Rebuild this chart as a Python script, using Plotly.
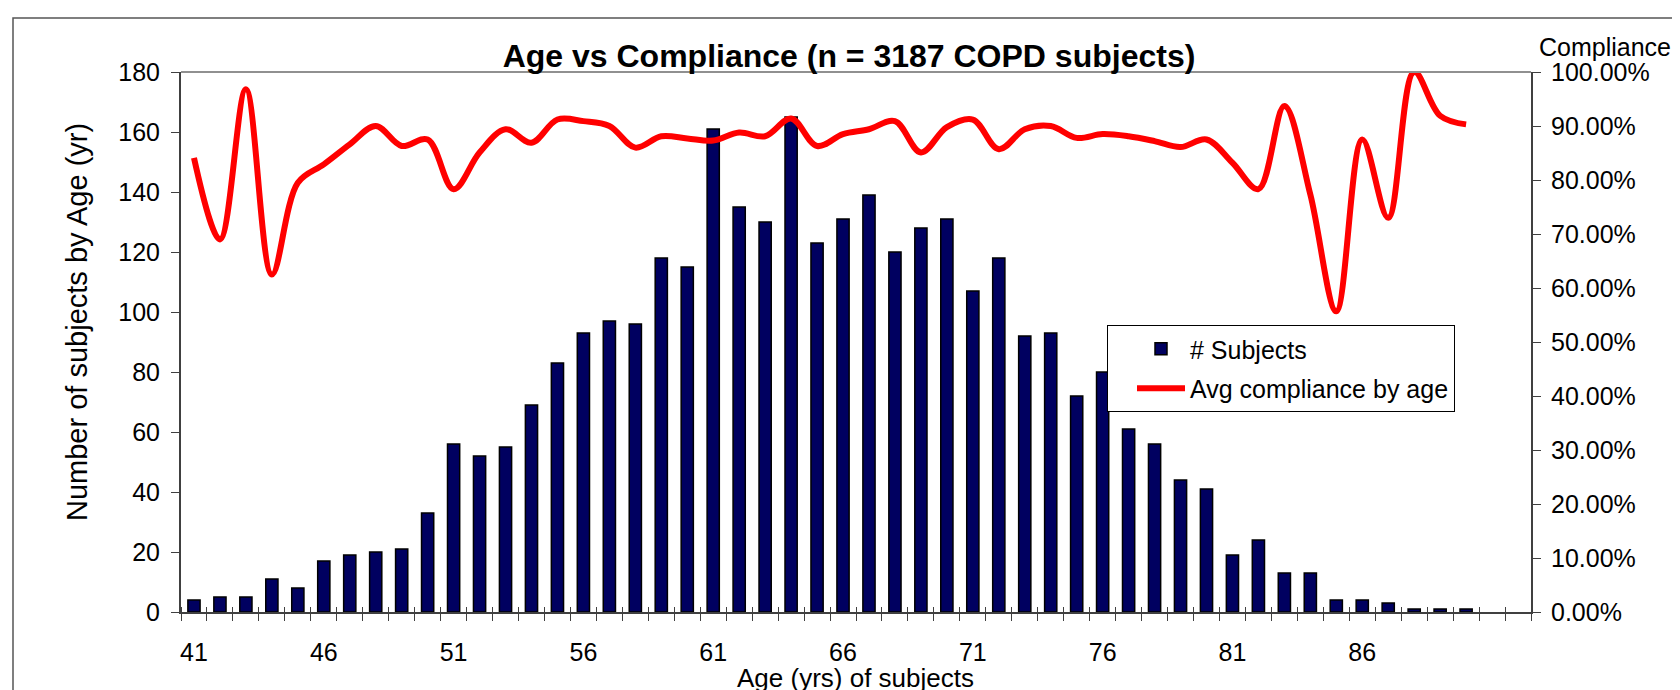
import plotly.graph_objects as go

# ---------------- data ----------------
ages = list(range(41, 91))
subjects = [4, 5, 5, 11, 8, 17, 19, 20, 21, 33,
            56, 52, 55, 69, 83, 93, 97, 96, 118, 115,
            161, 135, 130, 165, 123, 131, 139, 120, 128, 131,
            107, 118, 92, 93, 72, 80, 61, 56, 44, 41,
            19, 24, 13, 13, 4, 4, 3, 1, 1, 1]
compliance = [0.841, 0.690, 0.968, 0.625, 0.795, 0.829, 0.866, 0.900, 0.863, 0.875,
              0.783, 0.851, 0.894, 0.869, 0.912, 0.909, 0.900, 0.860, 0.881, 0.877,
              0.873, 0.888, 0.881, 0.914, 0.863, 0.885, 0.894, 0.909, 0.851, 0.898,
              0.912, 0.857, 0.894, 0.900, 0.878, 0.885, 0.881, 0.872, 0.861, 0.875,
              0.832, 0.783, 0.937, 0.773, 0.557, 0.875, 0.730, 1.000, 0.919, 0.903]
x_tick_labels = [41, 46, 51, 56, 61, 66, 71, 76, 81, 86]
n_categories = 52  # 41..92 (last two categories empty)
y_left_ticks = list(range(0, 181, 20))
y_right_ticks = [i / 10 for i in range(0, 11)]

# ---------------- layout geometry ----------------
OFF = 8                      # default page margin around the plot div
W, H = 1680 - OFF, 690 - OFF
L, R, T, B = 181 - OFF, 149, 72 - OFF, 78
pw, ph = W - L - R, H - T - B
FONT = "Liberation Sans, Arial, sans-serif"
AX = "#404040"

x_lo = ages[0] - 0.5
x_hi = ages[0] - 0.5 + n_categories
boundaries = [x_lo + i for i in range(n_categories + 1)]


def px_x(p):  # page pixel -> paper x
    return (p - OFF - L) / pw


def px_y(p):  # page pixel -> paper y
    return (H - B - (p - OFF)) / ph


fig = go.Figure()
fig.add_trace(go.Bar(
    x=ages, y=subjects, name="# Subjects",
    marker=dict(color="#000060", line=dict(color="black", width=1.5)),
    legendgroup="a",
))
fig.add_trace(go.Scatter(
    x=ages, y=compliance, name="Avg compliance by age",
    mode="lines", line=dict(color="#ff0000", width=6, shape="spline", smoothing=1.0),
    xaxis="x2", yaxis="y2", legendgroup="b",
))

fig.update_layout(
    width=W, height=H,
    margin=dict(l=L, r=R, t=T, b=B, autoexpand=False),
    paper_bgcolor="white", plot_bgcolor="white",
    font=dict(family=FONT, size=25, color="black"),
    bargap=0.53,
    showlegend=True,
    title=dict(text="<b>Age vs Compliance (n = 3187 COPD subjects)</b>",
               x=px_x(849), xref="paper", xanchor="center",
               y=1 - (56 - OFF) / H, yref="container", yanchor="middle",
               font=dict(size=32, family=FONT, color="black")),
    xaxis=dict(range=[x_lo, x_hi], tickmode="array", tickvals=x_tick_labels,
               ticktext=[str(v) for v in x_tick_labels],
               ticks="outside", ticklen=0, tickcolor=AX,
               minor=dict(ticks="outside", tickvals=boundaries, ticklen=7, tickcolor=AX, tickwidth=1.2, showgrid=False),
               showline=True, linecolor=AX, linewidth=2, showgrid=False, zeroline=False,
               ticklabelstandoff=17, automargin=False, tickfont=dict(size=25)),
    xaxis2=dict(range=[x_lo, x_hi], overlaying="x", anchor="y", side="bottom",
                showticklabels=False, tickmode="array", tickvals=[], ticks="",
                minor=dict(ticks="inside", tickvals=boundaries, ticklen=5, tickcolor=AX, tickwidth=1.2, showgrid=False),
                showline=False, showgrid=False, zeroline=False, automargin=False),
    yaxis=dict(range=[0, 180], tickmode="array", tickvals=y_left_ticks,
               ticks="outside", ticklen=8, tickcolor=AX, tickwidth=1.2,
               showline=True, linecolor=AX, linewidth=2, showgrid=False, zeroline=False,
               ticklabelstandoff=6, automargin=False),
    yaxis2=dict(range=[0, 1], overlaying="y", side="right", anchor="x",
                tickmode="array", tickvals=y_right_ticks, tickformat=".2%",
                ticks="outside", ticklen=8, tickcolor=AX, tickwidth=1.2,
                showline=True, linecolor=AX, linewidth=2, showgrid=False, zeroline=False,
                ticklabelstandoff=5, automargin=False),
    yaxis3=dict(range=[0, 180], overlaying="y", side="left", anchor="x",
                tickmode="array", tickvals=y_left_ticks, ticks="inside", ticklen=7,
                tickcolor=AX, tickwidth=1.2, showticklabels=False,
                showline=False, showgrid=False, zeroline=False, automargin=False),
    yaxis4=dict(range=[0, 1], overlaying="y", side="right", anchor="x",
                tickmode="array", tickvals=y_right_ticks, ticks="inside", ticklen=7,
                tickcolor=AX, tickwidth=1.2, showticklabels=False,
                showline=False, showgrid=False, zeroline=False, automargin=False),
    legend=dict(x=px_x(1107), y=px_y(325), xanchor="left", yanchor="top",
                bgcolor="white", bordercolor="black", borderwidth=1,
                font=dict(size=25, family=FONT), traceorder="grouped",
                tracegroupgap=4, itemwidth=48, indentation=24,
                entrywidth=380, entrywidthmode="pixels"),
    shapes=[
        # top frame of the plot area
        dict(type="line", xref="paper", yref="paper", x0=0, x1=1, y0=1, y1=1,
             line=dict(color="#909090", width=2)),
        # outer chart border
        dict(type="rect", xref="paper", yref="paper",
             x0=px_x(13), x1=px_x(1700), y0=px_y(720), y1=px_y(18),
             line=dict(color="#555555", width=1.5), fillcolor="rgba(0,0,0,0)", layer="below"),
    ],
    annotations=[
        dict(text="Compliance", xref="paper", yref="paper",
             x=px_x(1537), y=px_y(47), xanchor="left", yanchor="middle",
             showarrow=False, font=dict(size=25, family=FONT, color="black")),
        dict(text="Number of subjects by Age (yr)", xref="paper", yref="paper",
             x=px_x(77), y=px_y(322), xanchor="center", yanchor="middle", textangle=-90,
             showarrow=False, font=dict(size=29, family=FONT, color="black")),
        dict(text="Age (yrs) of subjects", xref="paper", yref="paper",
             x=px_x(855), y=px_y(678), xanchor="center", yanchor="middle",
             showarrow=False, font=dict(size=26, family=FONT, color="black")),
    ],
)

fig.write_html("out.html")
